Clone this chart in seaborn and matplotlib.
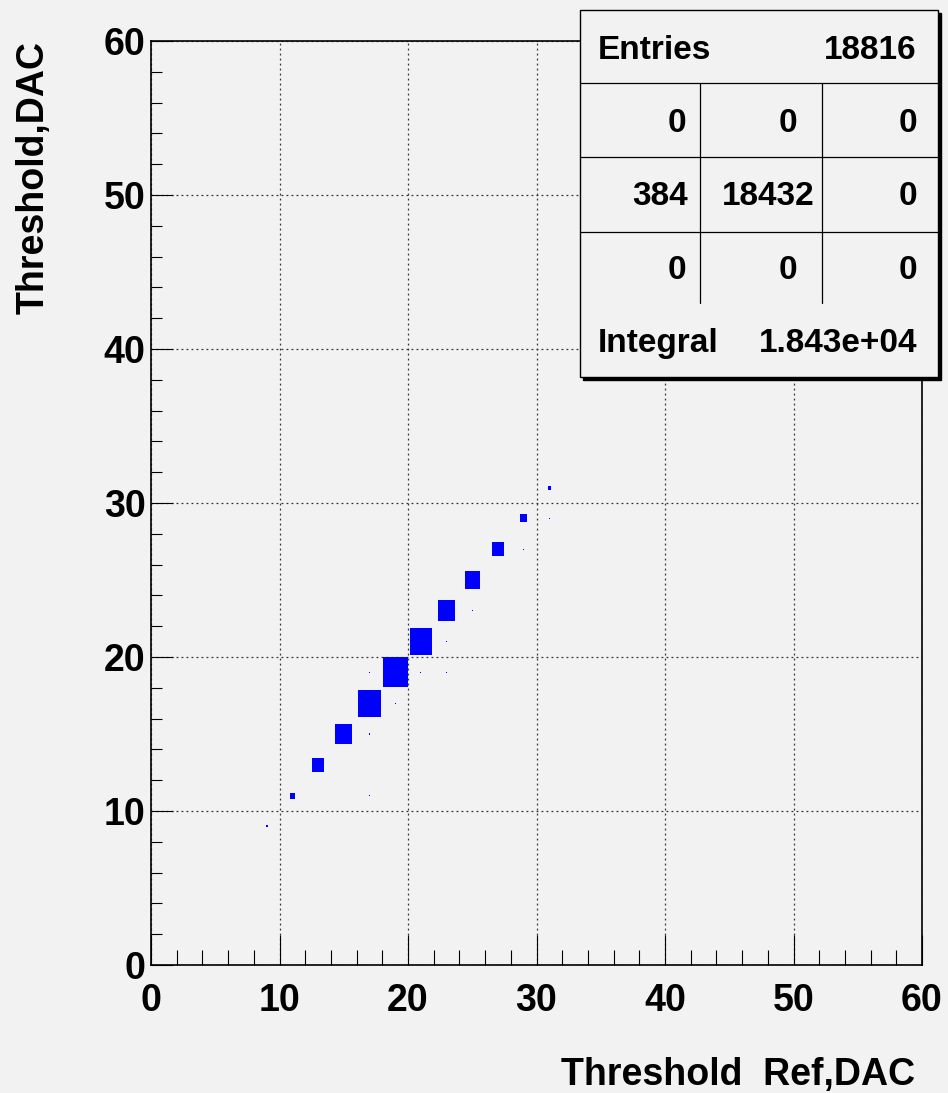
import numpy as np
import pandas as pd
import matplotlib
matplotlib.use("Agg")
import matplotlib.pyplot as plt
from matplotlib.patches import Rectangle
from matplotlib.lines import Line2D
from matplotlib.ticker import MultipleLocator
import seaborn as sns

# Diagonal cells (bin centres, width 2) and their counts
diag_x = [9, 11, 13, 15, 17, 19, 21, 23, 25, 27, 29, 31]
diag_y = [9, 11, 13, 15, 17, 19, 21, 23, 25, 27, 29, 31]
diag_counts = [21, 156, 847, 1846, 3388, 4111, 3235, 2080, 1472, 847, 296, 74]

# Sparse off-diagonal cells
off_x = [21, 19, 17, 19, 23, 25, 27, 29, 31, 33,
         13, 17, 23, 25, 27, 13, 15, 21, 23, 25,
         13, 19, 21, 23, 15, 17, 21, 23, 25, 13, 17, 21, 31, 35, 25]
off_y = [19, 17, 15, 13, 21, 23, 25, 27, 29, 31,
         19, 19, 19, 19, 19, 17, 17, 17, 17, 17,
         15, 15, 15, 15, 13, 13, 13, 13, 13, 11, 11, 11, 33, 33, 7]
off_counts = [6, 6, 5, 3, 4, 3, 3, 2, 1, 1,
              1, 1, 1, 1, 1, 1, 1, 1, 1, 1,
              1, 1, 1, 1, 1, 1, 1, 1, 1, 1, 1, 1, 1, 1, 1]

bin_width = 2.0

# Stats box contents
entries_label = "Entries"
entries_value = "18816"
grid_rows = [["0", "0", "0"], ["384", "18432", "0"], ["0", "0", "0"]]
integral_label = "Integral"
integral_value = "1.843e+04"

df = pd.DataFrame({
    "x": diag_x + off_x,
    "y": diag_y + off_y,
    "n": diag_counts + off_counts,
})

sns.set_theme(style="ticks")
bg = "#f2f2f2"
plt.rcParams["font.family"] = ["Liberation Sans", "DejaVu Sans"]
plt.rcParams["font.weight"] = "bold"
plt.rcParams["text.color"] = "black"
plt.rcParams["axes.labelcolor"] = "black"
plt.rcParams["xtick.color"] = "black"
plt.rcParams["ytick.color"] = "black"

W, H = 948, 1093
fig = plt.figure(figsize=(W / 100, H / 100), dpi=100, facecolor=bg)
ax = fig.add_axes([151 / W, 1 - 965 / H, (922 - 151) / W, (965 - 41) / H])
ax.set_facecolor(bg)

# box sizes: area proportional to content
nmax = df["n"].max()
side = 0.97 * np.sqrt(df["n"] / nmax)
widths = bin_width * side
heights = bin_width * side
ax.bar(df["x"], heights, width=widths, bottom=df["y"] - heights / 2,
       color="#0000ff", linewidth=0, zorder=3)

ax.set_xlim(0, 60)
ax.set_ylim(0, 60)
ax.xaxis.set_major_locator(MultipleLocator(10))
ax.yaxis.set_major_locator(MultipleLocator(10))
ax.xaxis.set_minor_locator(MultipleLocator(2))
ax.yaxis.set_minor_locator(MultipleLocator(2))

ax.grid(True, which="major", color="#333333", linestyle=(0, (1.5, 2.5)), linewidth=0.9, zorder=1)

ax.tick_params(axis="x", which="major", direction="in", length=21.6, width=0.8,
               pad=13, labelsize=27, colors="black", top=False)
ax.tick_params(axis="x", which="minor", direction="in", length=11, width=0.8,
               colors="black", top=False)
ax.tick_params(axis="y", which="major", direction="in", length=16, width=0.8,
               pad=4, labelsize=27, colors="black", right=False)
ax.tick_params(axis="y", which="minor", direction="in", length=8, width=0.8,
               colors="black", right=False)
for lab in ax.get_xticklabels() + ax.get_yticklabels():
    lab.set_fontweight("bold")

for s in ax.spines.values():
    s.set_color("black")
    s.set_linewidth(1.2)

ax.set_xlabel("Threshold  Ref,DAC", fontsize=27, fontweight="bold", loc="right", color="black")
ax.xaxis.set_label_coords(0.991, -0.0995)
ax.set_ylabel("Threshold,DAC", fontsize=27, fontweight="bold", loc="top", color="black")
ax.yaxis.set_label_coords(-0.1295, 1.0)


def fx(px):
    return px / W


def fy(py):
    return 1 - py / H


# stats box with shadow
bx0, bx1, by0, by1 = 580, 938, 10, 377
fig.add_artist(Rectangle((fx(bx0 + 3), fy(by1 + 3)), fx(bx1 - bx0), (by1 - by0) / H,
                         transform=fig.transFigure, facecolor="black", edgecolor="black", zorder=5))
fig.add_artist(Rectangle((fx(bx0), fy(by1)), fx(bx1 - bx0), (by1 - by0) / H,
                         transform=fig.transFigure, facecolor=bg, edgecolor="black",
                         linewidth=1.0, zorder=6))
for yy in [83, 157, 232]:
    fig.add_artist(Line2D([fx(bx0), fx(bx1)], [fy(yy), fy(yy)], transform=fig.transFigure,
                          color="black", linewidth=0.9, zorder=7))
for xx in [700, 822]:
    fig.add_artist(Line2D([fx(xx), fx(xx)], [fy(83), fy(303)], transform=fig.transFigure,
                          color="black", linewidth=0.9, zorder=7))

tk = dict(fontsize=24, fontweight="bold", va="baseline", color="black", zorder=8)
fig.text(fx(598), fy(59), entries_label, ha="left", **tk)
fig.text(fx(917), fy(59), entries_value, ha="right", **tk)
col_right = [[686, 797, 917], [688, 815, 917], [686, 797, 917]]
row_base = [132, 205, 279]
for r, row in enumerate(grid_rows):
    for c, val in enumerate(row):
        fig.text(fx(col_right[r][c]), fy(row_base[r]), val, ha="right", **tk)
fig.text(fx(598), fy(352), integral_label, ha="left", **tk)
fig.text(fx(917), fy(352), integral_value, ha="right", **tk)

fig.savefig("out.png", dpi=100, facecolor=bg)
